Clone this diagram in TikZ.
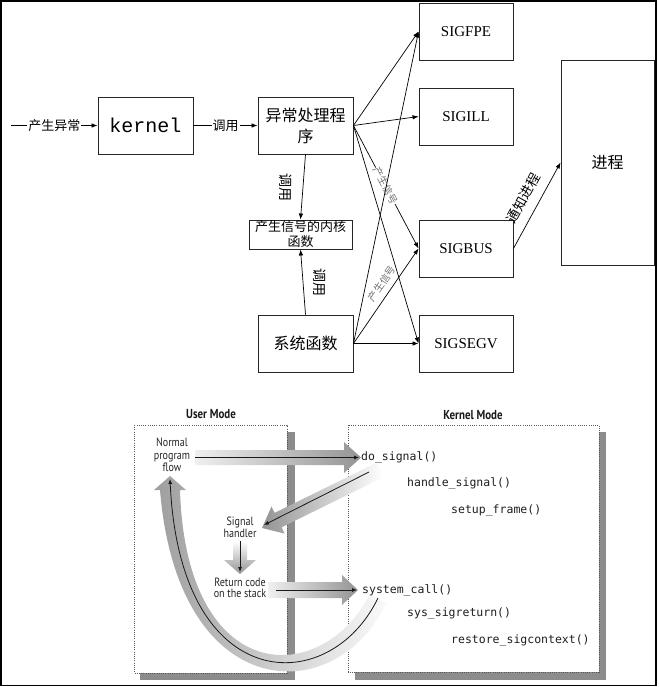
\documentclass[tikz,border=0pt]{standalone}
\usepackage{fontspec}
\setmainfont{Liberation Serif}
\newfontfamily\cjk{Noto Sans CJK SC}
\newfontfamily\kmono{Liberation Mono}
\newfontfamily\codefont{DejaVu Sans Mono}
\newfontfamily\cond[FakeStretch=0.84]{PT Sans}
\usetikzlibrary{arrows.meta}
\begin{document}
\begin{tikzpicture}[x=1pt,y=-1pt,
  box/.style={draw=black!85, line width=0.9pt, minimum width=95pt, minimum height=57pt, inner sep=0pt, align=center},
  conn/.style={line width=0.7pt, -{Latex[length=6pt,width=4.5pt]}},
  cn/.style={font=\cjk\fontsize{16}{21}\selectfont},
  sig/.style={font=\fontsize{15}{18}\selectfont},
  lab/.style={font=\cjk\fontsize{13}{15}\selectfont, fill=white, inner sep=1pt},
  vlab/.style={font=\cjk\fontsize{14}{16}\selectfont, inner sep=0pt, rotate=-90},
  slab/.style={font=\cjk\fontsize{10}{12}\selectfont, text=black!55, inner sep=0.5pt, sloped},
  dotbox/.style={draw=black!65, line width=0.9pt, dash pattern=on 0.9pt off 1.3pt, fill=white},
  shadow/.style={fill=black!45},
  barrow/.style={line width=0.8pt, draw=black!90, -{Latex[length=5pt,width=4pt]}},
  eng/.style={font=\cond\fontsize{12}{12.5}\selectfont, text=black!85, align=center, inner sep=0pt},
  head/.style={font=\cond\bfseries\fontsize{13}{15}\selectfont, text=black!90, inner sep=0pt},
  code/.style={font=\codefont\fontsize{11.5}{13}\selectfont, text=black!88, anchor=west, inner sep=0pt}
]
\useasboundingbox (0,0) rectangle (658,687);
\draw[line width=1.5pt] (1,1) rectangle (656,685.5);

% ---------- top diagram ----------
\node[box, font=\kmono\fontsize{20}{24}\selectfont] (kernel) at (145.5,125.5) {kernel};
\node[box, cn] (handler) at (305.5,125.5) {异常处理程\\序};
\node[box, sig, minimum width=94pt] (fpe) at (466,31.5) {SIGFPE};
\node[box, sig, minimum width=94pt] (ill) at (466,116.5) {SIGILL};
\node[box, sig, minimum width=94pt] (bus) at (466,248.5) {SIGBUS};
\node[box, sig, minimum width=94pt] (segv) at (466,343.5) {SIGSEGV};
\node[box, cn, minimum width=93pt, minimum height=205pt] (proc) at (607.5,162.5) {进程};
\node[box, minimum width=103pt, minimum height=29pt, font=\cjk\fontsize{13}{15}\selectfont] (kfunc) at (300.5,234.5) {产生信号的内核\\函数};
\node[box, cn] (sysf) at (305.5,343.5) {系统函数};
\coordinate (start) at (11,125.5);

\draw[conn] (start) -- node[lab] {产生异常} (kernel.west);
\draw[conn] (kernel.east) -- node[lab] {调用} (handler.west);
\draw[conn] (handler.east) -- (fpe.west);
\draw[conn] (handler.east) -- (ill.west);
\draw[conn] (handler.east) -- node[slab, fill=white, pos=0.49] {产生信号} (bus.west);
\draw[conn] (handler.east) -- (segv.west);
\draw[conn] (handler.south) -- node[vlab, yshift=-17pt] {调用} (kfunc.north);
\draw[conn] (sysf.north) -- node[vlab, yshift=17pt] {调用} (kfunc.south);
\draw[conn] (sysf.east) -- (fpe.west);
\draw[conn] (sysf.east) -- node[slab, pos=0.57, above=5pt] {产生信号} (bus.west);
\draw[conn] (sysf.east) -- (segv.west);
\draw[conn] (bus.east) -- node[sloped, above=8pt, inner sep=1pt, font=\cjk\fontsize{13.5}{15}\selectfont] {通知进程} (proc.west);

% ---------- bottom diagram ----------
\fill[shadow] (287,432) rectangle (295,680);
\fill[shadow] (140,673) rectangle (295,680);
\fill[shadow] (599,432) rectangle (606,680);
\fill[shadow] (355,672) rectangle (606,680);
\path[dotbox] (134,425) rectangle (287,673);
\path[dotbox] (348,425) rectangle (599,672);

\node[head] (um) at (211,414) {User Mode};
\node[head] (km) at (473,415) {Kernel Mode};

% gray wide arrows
\shade[left color=black!6, right color=black!42]
  (195,450) -- (344,450) -- (344,442) -- (361,457.5) -- (344,473) -- (344,465) -- (195,465) -- cycle;
\shade[left color=black!42, right color=white]
  (376.5,462.8) -- (274.6,512.9) -- (271.5,506.6) -- (262,528) -- (284.7,533.6) -- (281.6,527.3) -- (383.5,477.2) -- cycle;
\shade[top color=white, bottom color=black!42]
  (233,541) -- (247,541) -- (247,560) -- (256,560) -- (240,574) -- (224,560) -- (233,560) -- cycle;
\shade[left color=black!6, right color=black!42]
  (268,582) -- (342,582) -- (342,575) -- (358,590) -- (342,605) -- (342,598) -- (268,598) -- cycle;
\shade[left color=black!38, right color=black!2]
  (386,603) .. controls (338,708) and (178,708) .. (160,490) -- (154,490) -- (170,476) -- (186,490) -- (180,490)
  .. controls (186,688) and (322,688) .. (370,594) -- cycle;

% texts
\node[eng] (npf) at (172,455) {Normal\\program\\flow};
\node[eng, font=\cond\fontsize{12}{12}\selectfont] (sh) at (240,527) {Signal\\handler};
\node[eng, font=\cond\fontsize{12}{11.5}\selectfont] (rc) at (240,588) {Return code\\on the stack};
\node[code] (dos) at (361,457) {do\_signal()};
\node[code] (hs) at (407,483) {handle\_signal()};
\node[code] (sf) at (451,510) {setup\_frame()};
\node[code] (sc) at (362,590) {system\_call()};
\node[code] (ssr) at (407,613) {sys\_sigreturn()};
\node[code] (rsc) at (451,640) {restore\_sigcontext()};

% black arrows
\coordinate (a1s) at (195,457.5);
\coordinate (a1e) at (359,457.5);
\coordinate (a2s) at (369,472);
\coordinate (a2e) at (264,525);
\coordinate (a3s) at (240,541);
\coordinate (a3e) at (240,572);
\coordinate (a4s) at (276,590);
\coordinate (a4e) at (357,590);
\coordinate (cs) at (378,598);
\coordinate (ce) at (170,479);
\draw[barrow] (a1s) -- (a1e);
\draw[barrow] (a2s) -- (a2e);
\draw[barrow] (a3s) -- (a3e);
\draw[barrow] (a4s) -- (a4e);
\draw[barrow] (cs) .. controls (330,698) and (180,698) .. (ce);
\end{tikzpicture}
\end{document}
